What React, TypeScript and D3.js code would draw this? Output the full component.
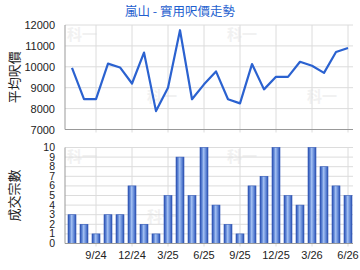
import React from "react";
import * as d3 from "d3";

const months = [
  "7/24","8/24","9/24","10/24","11/24","12/24","1/25","2/25","3/25","4/25","5/25","6/25",
  "7/25","8/25","9/25","10/25","11/25","12/25","1/26","2/26","3/26","4/26","5/26","6/26",
];
const prices = [
  9950, 8450, 8450, 10150, 9970, 9200, 10680, 7880, 9000, 11750, 8450, 9160,
  9780, 8450, 8250, 10130, 8920, 9520, 9520, 10240, 10050, 9710, 10710, 10900,
];
const counts = [3, 2, 1, 3, 3, 6, 2, 1, 5, 9, 5, 10, 4, 2, 1, 6, 7, 10, 5, 4, 10, 8, 6, 5];
const tickMonths = ["9/24", "12/24", "3/25", "6/25", "9/25", "12/25", "3/26", "6/26"];
const priceTicks = [7000, 8000, 9000, 10000, 11000, 12000];
const countTicks = [0, 1, 2, 3, 4, 5, 6, 7, 8, 9, 10];
const title = "嵐山 - 實用呎價走勢";
const priceLabel = "平均呎價";
const countLabel = "成交宗數";
const watermark = "科一";

const LEFT = 65;
const RIGHT = 353;
const FONT = "Arial, 'Liberation Sans', sans-serif";
const CJK = "'Noto Sans CJK TC', sans-serif";

export default function App() {
  const x = d3.scaleBand<string>().domain(months).range([LEFT + 1, RIGHT + 1]);
  const cx = (m: string) => (x(m) as number) + x.bandwidth() / 2;
  const yP = d3.scaleLinear().domain([7000, 12000]).range([129.5, 25]);
  const yC = d3.scaleLinear().domain([0, 10]).range([243.5, 147.5]);
  const line = d3
    .line<number>()
    .x((_, i) => cx(months[i]))
    .y((d) => yP(d));
  const barW = 8;
  const marks = [
    [82, 40], [162, 102], [242, 40], [322, 102],
    [82, 162], [162, 222], [242, 162], [322, 222],
  ];

  return (
    <svg width={360} height={270} style={{ position: "absolute", left: 0, top: 0, background: "#fff" }}>
      <defs>
        <linearGradient id="barGrad" x1="0" x2="1" y1="0" y2="0">
          <stop offset="0%" stopColor="#2a4fae" />
          <stop offset="25%" stopColor="#5f86d6" />
          <stop offset="45%" stopColor="#a3c0f2" />
          <stop offset="75%" stopColor="#5f86d6" />
          <stop offset="100%" stopColor="#2a4fae" />
        </linearGradient>
      </defs>
      <rect x={0} y={0} width={360} height={270} fill="#fff" />
      {marks.map(([mx, my], i) => (
        <text key={i} x={mx} y={my} textAnchor="middle" fontFamily={CJK} fontWeight="bold" fontSize={15} fill="#f1f1f1">
          {watermark}
        </text>
      ))}
      <text x={180} y={16} textAnchor="middle" fontFamily={CJK} fontSize={12.5} fill="#1f5fcf">
        {title}
      </text>

      {/* top chart */}
      <g>
        {priceTicks.map((t) => (
          <g key={t}>
            <line x1={LEFT} x2={RIGHT} y1={yP(t)} y2={yP(t)} stroke="#dcdcdc" />
            <text x={55} y={yP(t) + 4} textAnchor="end" fontFamily={FONT} fontSize={11} fill="#222">
              {t}
            </text>
          </g>
        ))}
        {tickMonths.map((m) => (
          <line key={m} x1={cx(m)} x2={cx(m)} y1={yP(12000)} y2={yP(7000) + 3} stroke="#dcdcdc" />
        ))}
        <line x1={LEFT} x2={LEFT} y1={yP(12000)} y2={yP(7000)} stroke="#999" />
        <line x1={LEFT} x2={RIGHT} y1={yP(7000)} y2={yP(7000)} stroke="#999" />
        <path d={line(prices) || ""} fill="none" stroke="#2b62d0" strokeWidth={2.2} strokeLinejoin="round" />
        <text
          transform={`translate(19,${(yP(12000) + yP(7000)) / 2}) rotate(-90)`}
          textAnchor="middle"
          fontFamily={CJK}
          fontSize={13}
          fill="#222"
        >
          {priceLabel}
        </text>
      </g>

      {/* bottom chart */}
      <g>
        {countTicks.map((t) => (
          <g key={t}>
            <line x1={LEFT} x2={RIGHT} y1={yC(t)} y2={yC(t)} stroke="#dcdcdc" />
            <text x={55} y={yC(t) + 3.5} textAnchor="end" fontFamily={FONT} fontSize={10.5} fill="#222">
              {t}
            </text>
          </g>
        ))}
        {tickMonths.map((m) => (
          <g key={m}>
            <line x1={cx(m)} x2={cx(m)} y1={yC(10)} y2={yC(0) + 3} stroke="#dcdcdc" />
            <text x={cx(m)} y={259} textAnchor="middle" fontFamily={FONT} fontSize={11} fill="#222">
              {m}
            </text>
          </g>
        ))}
        {counts.map((c, i) => (
          <rect
            key={i}
            x={cx(months[i]) - barW / 2}
            y={yC(c)}
            width={barW}
            height={yC(0) - yC(c)}
            fill="url(#barGrad)"
            stroke="#3359b8"
            strokeWidth={0.6}
          />
        ))}
        <line x1={LEFT} x2={LEFT} y1={yC(10)} y2={yC(0)} stroke="#999" />
        <line x1={LEFT} x2={RIGHT} y1={yC(0)} y2={yC(0)} stroke="#999" />
        <text
          transform={`translate(19,${(yC(10) + yC(0)) / 2}) rotate(-90)`}
          textAnchor="middle"
          fontFamily={CJK}
          fontSize={13}
          fill="#222"
        >
          {countLabel}
        </text>
      </g>
    </svg>
  );
}
